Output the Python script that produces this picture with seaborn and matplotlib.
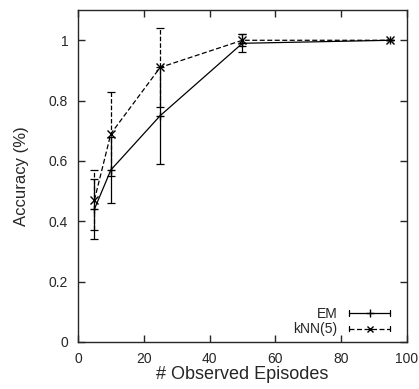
import matplotlib
matplotlib.use("Agg")
import matplotlib.pyplot as plt
from matplotlib.lines import Line2D
from matplotlib.legend_handler import HandlerLine2D
import pandas as pd
import seaborn as sns

episodes = [5, 10, 25, 50, 95]
em_acc = [0.44, 0.57, 0.75, 0.99, 1.0]
em_err = [0.10, 0.11, 0.16, 0.03, 0.0]
knn_acc = [0.47, 0.69, 0.91, 1.0, 1.0]
knn_err = [0.10, 0.14, 0.13, 0.02, 0.0]

df = pd.DataFrame({
    "episodes": episodes * 2,
    "acc": em_acc + knn_acc,
    "err": em_err + knn_err,
    "method": ["EM"] * 5 + ["kNN(5)"] * 5,
})


class CapHandler(HandlerLine2D):
    # gnuplot-style key sample: line with end caps
    def create_artists(self, legend, orig_handle, xdescent, ydescent,
                       width, height, fontsize, trans):
        arts = super().create_artists(legend, orig_handle, xdescent, ydescent,
                                      width, height, fontsize, trans)
        y = height / 2 - ydescent
        h = height * 0.3
        for x in (-xdescent, width - xdescent):
            arts.append(Line2D([x, x], [y - h, y + h], color="black",
                               lw=0.9, transform=trans))
        return arts


sns.set_style("ticks")
plt.rcParams["font.family"] = ["Liberation Sans", "DejaVu Sans"]

fig, ax = plt.subplots(figsize=(4.19, 3.89), dpi=100)
fig.subplots_adjust(left=0.186, right=0.971, top=0.974, bottom=0.121)

styles = {"EM": "-", "kNN(5)": "--"}
for name, sub in df.groupby("method"):
    eb = ax.errorbar(sub["episodes"], sub["acc"], yerr=sub["err"], fmt="none",
                     ecolor="black", elinewidth=0.9, capsize=3, capthick=0.9)
    for c in eb[2]:
        c.set_linestyle(styles[name])

sns.lineplot(data=df, x="episodes", y="acc", hue="method", style="method",
             palette=["black", "black"],
             dashes={"EM": "", "kNN(5)": (4, 2)},
             markers={"EM": "+", "kNN(5)": "x"},
             markersize=6, markeredgewidth=1.0, markeredgecolor="black",
             linewidth=0.9, ax=ax, legend=False)

ax.set_xlim(0, 100)
ax.set_ylim(0, 1.1)
ax.set_xticks([0, 20, 40, 60, 80, 100])
ax.set_yticks([0, 0.2, 0.4, 0.6, 0.8, 1.0])
ax.set_yticklabels(["0", "0.2", "0.4", "0.6", "0.8", "1"])
ax.tick_params(direction="in", top=True, right=True, length=5, width=1,
               labelsize=10, pad=7)
for s in ax.spines.values():
    s.set_linewidth(1.0)
ax.set_xlabel("# Observed Episodes", fontsize=13, labelpad=0)
ax.set_ylabel("Accuracy (%)", fontsize=12, labelpad=14)

handles = [
    Line2D([], [], color="black", lw=0.9, ls="-", marker="+", markersize=6),
    Line2D([], [], color="black", lw=0.9, ls=(0, (4, 2)), marker="x", markersize=5),
]
ax.legend(handles, ["EM", "kNN(5)"], loc="lower right", frameon=False,
          markerfirst=False, fontsize=10, handlelength=3.0, borderaxespad=0,
          bbox_to_anchor=(0.967, 0.0),
          labelspacing=0.1, numpoints=1,
          handler_map={Line2D: CapHandler(numpoints=1)})

fig.savefig("out.png", dpi=100)
